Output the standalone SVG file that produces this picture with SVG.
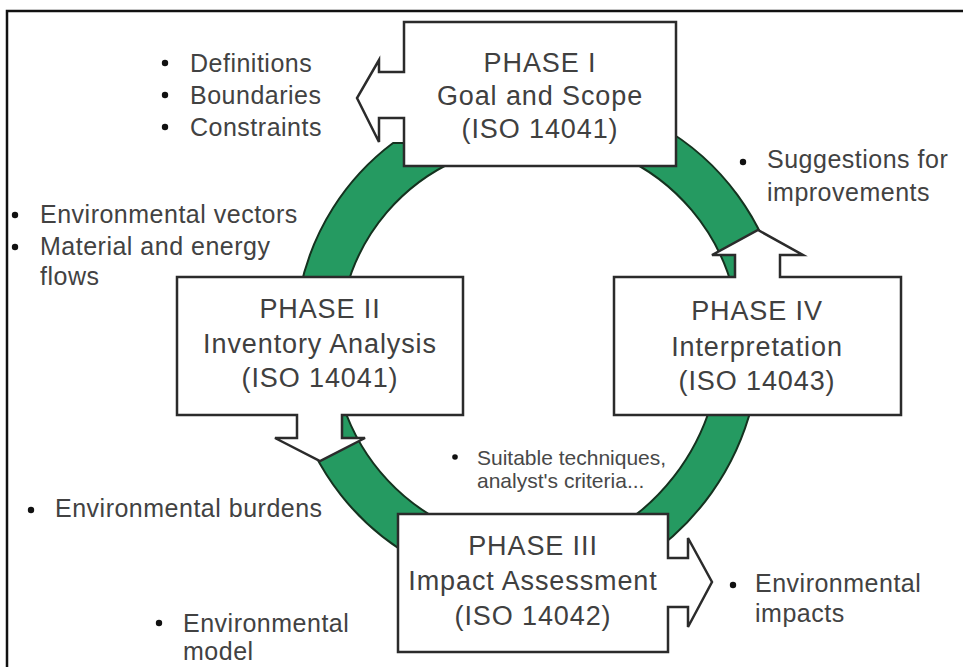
<svg xmlns="http://www.w3.org/2000/svg" width="963" height="667" viewBox="0 0 963 667">
<style>
.ring{fill:#259a61;stroke:#15321f;stroke-width:2;stroke-linejoin:round}
.box{fill:#ffffff;stroke:#2b2b2b;stroke-width:2.5;stroke-linejoin:miter}
.ph{font-family:"Liberation Sans",Arial,sans-serif;font-size:27px;fill:#404040;text-anchor:middle;letter-spacing:0.9px}
.bl{font-family:"Liberation Sans",Arial,sans-serif;font-size:25px;fill:#424242;letter-spacing:0.5px}
.sm{font-family:"Liberation Sans",Arial,sans-serif;font-size:21px;fill:#484848}
.dot{fill:#111}
</style>
<rect x="0" y="0" width="963" height="667" fill="#ffffff"/>
<rect x="7" y="11" width="980" height="680" fill="none" stroke="#111" stroke-width="2.5"/>

<g id="connectors">
  <path class="ring" d="M300,290 A245,245 0 0 1 393,143 L410,143 L410,160 L457,160 A198,198 0 0 0 346,290 Z"/>
  <path class="ring" d="M660,126 A248,248 0 0 1 780,290 L733,290 A203,203 0 0 0 620,156 Z"/>
  <path class="ring" d="M752,405 A262,262 0 0 1 642,560 L614,530 A222,222 0 0 0 711,405 Z"/>
  <path class="ring" d="M418,560 A249,249 0 0 1 296,405 L343,405 A204,204 0 0 0 460,530 Z"/>
</g>

<g id="phase1">
  <path class="box" d="M404,22 H676 V166 H404 V118 H379 V142 L357,98 L379,60 V72 H404 Z"/>
  <text class="ph" x="540" y="72">PHASE I</text>
  <text class="ph" x="540" y="105">Goal and Scope</text>
  <text class="ph" x="540" y="138">(ISO 14041)</text>
</g>

<g id="phase2">
  <path class="box" d="M177,277 H463 V415 H342 V438 H365 L320,461 L275,438 H297 V415 H177 Z"/>
  <text class="ph" x="320" y="318">PHASE II</text>
  <text class="ph" x="320" y="353">Inventory Analysis</text>
  <text class="ph" x="320" y="387">(ISO 14041)</text>
</g>

<g id="phase4">
  <path class="box" d="M614,277 H735 V255 H712 L758,230 L803,255 H780 V277 H901 V415 H614 Z"/>
  <text class="ph" x="757" y="320">PHASE IV</text>
  <text class="ph" x="757" y="356">Interpretation</text>
  <text class="ph" x="757" y="390">(ISO 14043)</text>
</g>

<g id="phase3">
  <path class="box" d="M398,514 H668 V558 H688 V538 L712,582 L688,627 V607 H668 V652 H398 Z"/>
  <text class="ph" x="533" y="555">PHASE III</text>
  <text class="ph" x="533" y="590">Impact Assessment</text>
  <text class="ph" x="533" y="625">(ISO 14042)</text>
</g>

<g id="notes-goal">
  <circle class="dot" cx="165" cy="63" r="3.2"/>
  <circle class="dot" cx="165" cy="95" r="3.2"/>
  <circle class="dot" cx="165" cy="127" r="3.2"/>
  <text class="bl" x="190" y="72">Definitions</text>
  <text class="bl" x="190" y="104">Boundaries</text>
  <text class="bl" x="190" y="136">Constraints</text>
</g>

<g id="notes-suggest">
  <circle class="dot" cx="743" cy="162" r="3.2"/>
  <text class="bl" x="767" y="168">Suggestions for</text>
  <text class="bl" x="767" y="201">improvements</text>
</g>

<g id="notes-inventory">
  <circle class="dot" cx="15" cy="215" r="3.2"/>
  <circle class="dot" cx="15" cy="247" r="3.2"/>
  <text class="bl" x="40" y="223">Environmental vectors</text>
  <text class="bl" x="40" y="255">Material and energy</text>
  <text class="bl" x="40" y="285">flows</text>
</g>

<g id="notes-burdens">
  <circle class="dot" cx="31" cy="510" r="3.2"/>
  <text class="bl" x="55" y="517">Environmental burdens</text>
</g>

<g id="notes-model">
  <circle class="dot" cx="159" cy="623" r="3.2"/>
  <text class="bl" x="183" y="632">Environmental</text>
  <text class="bl" x="183" y="660">model</text>
</g>

<g id="notes-techniques">
  <circle class="dot" cx="455" cy="457" r="2.8"/>
  <text class="sm" x="477" y="465">Suitable techniques,</text>
  <text class="sm" x="477" y="488">analyst's criteria...</text>
</g>

<g id="notes-impacts">
  <circle class="dot" cx="733" cy="585" r="3.2"/>
  <text class="bl" x="755" y="592">Environmental</text>
  <text class="bl" x="755" y="622">impacts</text>
</g>
</svg>
